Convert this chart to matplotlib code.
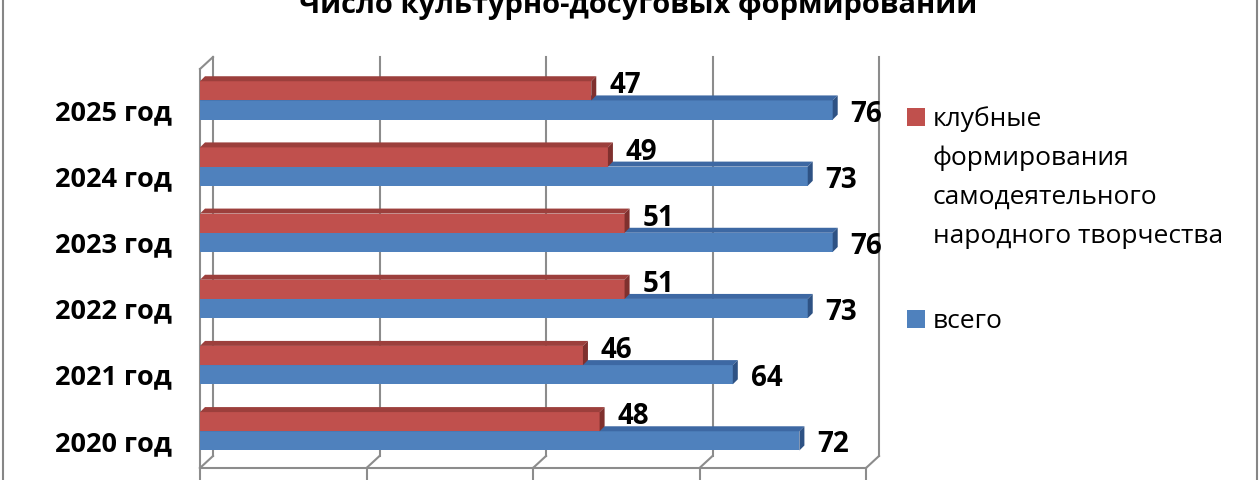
import matplotlib
matplotlib.use("Agg")
import matplotlib.pyplot as plt
from matplotlib import transforms
from matplotlib.lines import Line2D
from matplotlib.patches import Polygon, Rectangle

years = ["2020 год", "2021 год", "2022 год", "2023 год", "2024 год", "2025 год"]
club = [48, 46, 51, 51, 49, 47]
total = [72, 64, 73, 76, 73, 76]
x_ticks = [0, 20, 40, 60, 80]

title = "Число культурно-досуговых формирований"
legend_club = ["клубные", "формирования", "самодеятельного", "народного творчества"]
legend_total = "всего"

plt.rcParams["font.family"] = ["Open Sans", "DejaVu Sans"]

red, blue = "#C0504D", "#4F81BD"
red_top, red_side = "#9C3F3C", "#7F302E"
blue_top, blue_side = "#3D68A3", "#2E5284"
grid_c = "#8C8C8C"

W, H = 1260, 480
fig = plt.figure(figsize=(12.6, 4.8), dpi=100)
ax = fig.add_axes([200 / W, 12 / H, 666 / W, 399 / H])
ylo, yhi = -0.41, 5.62
ax.set_xlim(0, 80)
ax.set_ylim(ylo, yhi)
for s in ax.spines.values():
    s.set_visible(False)
ax.set_xticks([])
ax.set_yticks(range(len(years)), years)
ax.tick_params(axis="y", length=0, pad=20, labelsize=19.5)
for lab in ax.get_yticklabels():
    lab.set_fontweight("bold")

ident = transforms.IdentityTransform()


def px(x, y, dx=0, dy=0):
    X, Y = ax.transData.transform((x, y))
    return X + dx, Y + dy


def seg(p, q, **kw):
    ax.add_line(Line2D([p[0], q[0]], [p[1], q[1]], transform=ident,
                       color=grid_c, lw=1.5, clip_on=False, zorder=1, **kw))


# walls and floor, back plane shifted by (bx, by) pixels
bx, by = 13, 12
for x in x_ticks:
    seg(px(x, ylo, bx, by), px(x, yhi, bx, by))          # back wall grid
    seg(px(x, ylo), px(x, ylo, bx, by))                   # floor diagonals
    seg(px(x, ylo), px(x, ylo, 0, -14))                   # front ticks
seg(px(0, ylo), px(80, ylo))                              # floor front edge
seg(px(0, ylo), px(0, yhi))                               # left wall front edge
seg(px(0, yhi), px(0, yhi, bx, by))                       # left wall top

# bars with a small depth
bar_h = 0.29
d = 5


def bar3d(yc, v, front, top, side, z):
    ax.barh(yc, v, height=bar_h, color=front, lw=0, zorder=z)
    x0b, yb = px(0, yc - bar_h / 2)
    x1t, yt = px(v, yc + bar_h / 2)
    ax.add_patch(Polygon([(x0b, yt), (x1t, yt), (x1t + d, yt + d), (x0b + d, yt + d)],
                         closed=True, transform=ident, facecolor=top, lw=0,
                         zorder=z, clip_on=False))
    ax.add_patch(Polygon([(x1t, yb), (x1t, yt), (x1t + d, yt + d), (x1t + d, yb + d)],
                         closed=True, transform=ident, facecolor=side, lw=0,
                         zorder=z, clip_on=False))


lab_red = transforms.offset_copy(ax.transData, fig=fig, x=18, y=5, units="dots")
lab_blue = transforms.offset_copy(ax.transData, fig=fig, x=18, y=-4, units="dots")
for i in range(len(years)):
    bar3d(i, total[i], blue, blue_top, blue_side, 3)
    bar3d(i + bar_h, club[i], red, red_top, red_side, 4)
    ax.text(club[i], i + bar_h, str(club[i]), transform=lab_red, ha="left",
            va="center", fontsize=20, fontweight="bold")
    ax.text(total[i], i, str(total[i]), transform=lab_blue, ha="left",
            va="center", fontsize=20, fontweight="bold")

# title (partly cut off at the top, as in the source)
fig.text(638 / W, (H - 13) / H, title, ha="center", va="baseline",
         fontsize=21, fontweight="bold")

# legend
fig.add_artist(Rectangle((907 / W, (H - 126) / H), 18 / W, 18 / H,
                         transform=fig.transFigure, facecolor=red, lw=0))
for k, line in enumerate(legend_club):
    fig.text(933 / W, (H - 126 - 39 * k) / H, line, va="baseline", fontsize=19)
fig.add_artist(Rectangle((907 / W, (H - 328) / H), 18 / W, 18 / H,
                         transform=fig.transFigure, facecolor=blue, lw=0))
fig.text(933 / W, (H - 328) / H, legend_total, va="baseline", fontsize=19)

# outer chart border
for xb in (3, 1257):
    fig.add_artist(Line2D([xb / W, xb / W], [0, 1], transform=fig.transFigure,
                          color="#868686", lw=1.5))

fig.savefig("out.png", dpi=100)
